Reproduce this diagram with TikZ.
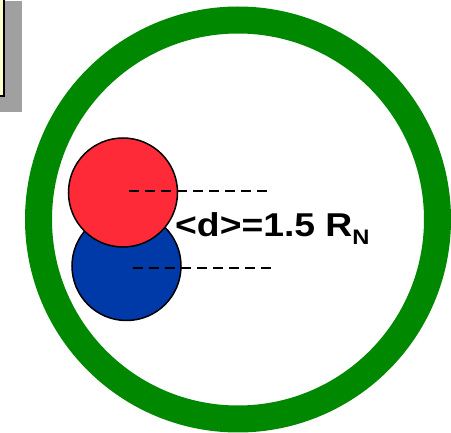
\documentclass[tikz,border=0pt]{standalone}
\usepackage{fontspec}
\setmainfont{Liberation Sans}
\definecolor{ringgreen}{RGB}{0,136,0}
\definecolor{nred}{RGB}{255,42,56}
\definecolor{nblue}{RGB}{0,57,168}
\definecolor{boxyellow}{RGB}{255,255,204}
\definecolor{shadowgray}{RGB}{160,160,160}
\tikzset{
  nucleon/.style={circle, draw=black, line width=1.5pt, minimum size=109pt, inner sep=0pt},
  dashline/.style={line width=2pt, dash pattern=on 10pt off 6pt},
}
\begin{document}
\begin{tikzpicture}[x=1pt,y=-1pt]
\useasboundingbox[fill=white] (0,0) rectangle (451,433);
% top-left box with shadow
\fill[shadowgray] (0,1) rectangle (22,112);
\draw[fill=boxyellow, line width=2pt] (-10,-10) rectangle (4,96);
% green ring
\node[circle, draw=ringgreen, line width=27pt, minimum size=399pt, inner sep=0pt] (ring) at (238,219.5) {};
% nucleons
\node[nucleon, fill=nblue] (blue) at (126.5,266) {};
\node[nucleon, fill=nred] (red) at (123,192.5) {};
\coordinate (rend) at (270,191);
\coordinate (bend) at (272,268);
\draw[dashline, dash phase=-3pt] (126,191) -- (rend);
\draw[dashline, dash phase=-3pt] (130,268) -- (bend);
% label
\node[anchor=base west, inner sep=0pt, font=\bfseries\fontsize{33}{33}\selectfont] (lbl) at (175,237)
  {\scalebox{1.13}[1]{<d>=1.5 R\raisebox{-8pt}{\fontsize{21}{21}\selectfont N}}};
\end{tikzpicture}
\end{document}
